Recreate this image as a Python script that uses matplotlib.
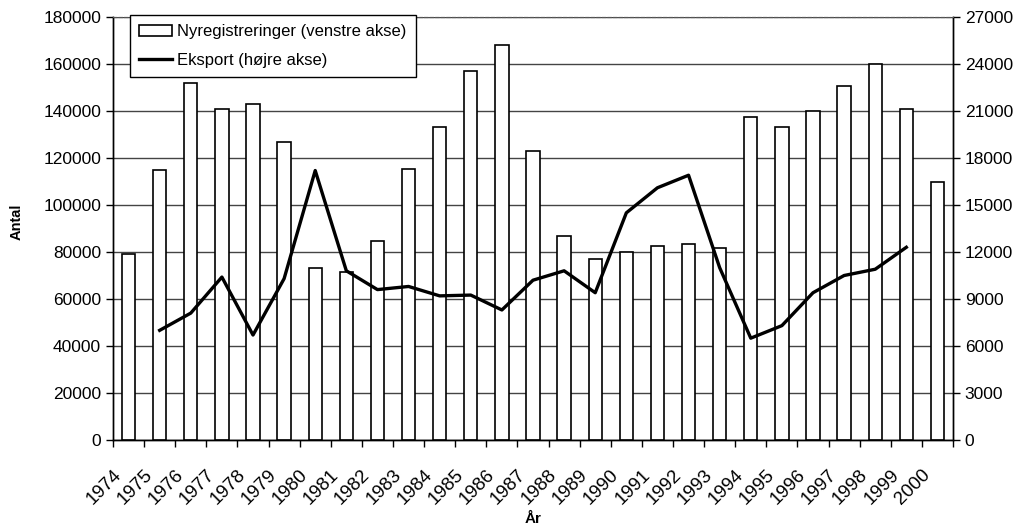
import numpy as np
import matplotlib
matplotlib.use("Agg")
import matplotlib.pyplot as plt
import matplotlib.transforms as mtransforms

# =========================
# 1. Data
# =========================
years = [str(y) for y in range(1974, 2001)]

nyregistreringer = [79000, 115000, 152000, 141000, 143000, 127000, 73000,
                    71500, 84500, 115500, 133000, 157000, 168000, 123000,
                    87000, 77000, 80000, 82500, 83500, 81500, 137500,
                    133000, 140000, 150500, 160000, 141000, 110000]

# eksport covers 1975-1999
eksport_years = [str(y) for y in range(1975, 2000)]
eksport = [7000, 8100, 10400, 6700, 10300, 17200, 10800, 9600, 9800,
           9200, 9250, 8300, 10200, 10800, 9400, 14500, 16100, 16900,
           11000, 6500, 7300, 9400, 10500, 10900, 12300]

# =========================
# 2. Figure
# =========================
plt.rcParams['font.family'] = ['Liberation Sans', 'DejaVu Sans']

fig = plt.figure(figsize=(10.2, 5.28), dpi=100)
ax = fig.add_axes([113 / 1020, 1 - 440 / 528, 840 / 1020, 423 / 528])
ax2 = ax.twinx()

x = np.arange(len(years))
x_line = np.array([years.index(y) for y in eksport_years])

# bars (left axis)
ax.bar(x, nyregistreringer, width=0.43, color='white', edgecolor='black',
       linewidth=1.2, zorder=3, label='Nyregistreringer (venstre akse)')

# line (right axis)
ax2.plot(x_line, eksport, color='black', linewidth=2.4, zorder=4,
         label='Eksport (højre akse)')

# =========================
# 3. Axes
# =========================
ax.set_xlim(-0.5, len(years) - 0.5)
ax.set_ylim(0, 180000)
ax2.set_ylim(0, 27000)

ax.set_yticks(np.arange(0, 180001, 20000))
ax2.set_yticks(np.arange(0, 27001, 3000))
ax.tick_params(axis='y', labelsize=12.5, length=5, width=1, direction='out')
ax2.tick_params(axis='y', labelsize=12.5, length=5, width=1, direction='out')

ax.grid(axis='y', color='#444444', linewidth=1.0, zorder=0)
ax.set_axisbelow(True)

# category ticks between bars, year labels drawn as rotated texts
ax.set_xticks(np.arange(-0.5, len(years), 1.0))
ax.set_xticklabels([])
ax.tick_params(axis='x', length=5, width=1, direction='out')

label_shift = mtransforms.ScaledTranslation(-10 / 100, -32 / 100,
                                            fig.dpi_scale_trans)
for xi, yr in zip(x, years):
    ax.text(xi, 0, yr, transform=ax.get_xaxis_transform() + label_shift,
            rotation=45, ha='right', va='center', rotation_mode='anchor',
            fontsize=13.5, clip_on=False)

for a in (ax, ax2):
    a.spines['top'].set_linestyle((0, (3, 2)))
    a.spines['top'].set_color('#555555')
    a.spines['left'].set_linewidth(1.0)
    a.spines['right'].set_linewidth(1.0)
    a.spines['bottom'].set_linewidth(1.0)

fig.text(17 / 1020, 1 - 222 / 528, 'Antal', rotation=90, fontsize=10.5,
         fontweight='bold', ha='center', va='center')
fig.text(533 / 1020, 1 - 519 / 528, 'År', fontsize=11,
         fontweight='bold', ha='center', va='center')

# =========================
# 4. Legend
# =========================
h1, l1 = ax.get_legend_handles_labels()
h2, l2 = ax2.get_legend_handles_labels()
leg = ax2.legend(h1 + h2, l1 + l2, loc='upper left',
                 bbox_to_anchor=(130 / 1020, 1 - 15 / 528),
                 bbox_transform=fig.transFigure, fontsize=12,
                 frameon=True, fancybox=False, edgecolor='black',
                 framealpha=1, borderpad=0.55, labelspacing=0.8,
                 handlelength=2.0, handletextpad=0.3, borderaxespad=0)
leg.get_frame().set_linewidth(1.0)

fig.savefig('out.png', dpi=100)
